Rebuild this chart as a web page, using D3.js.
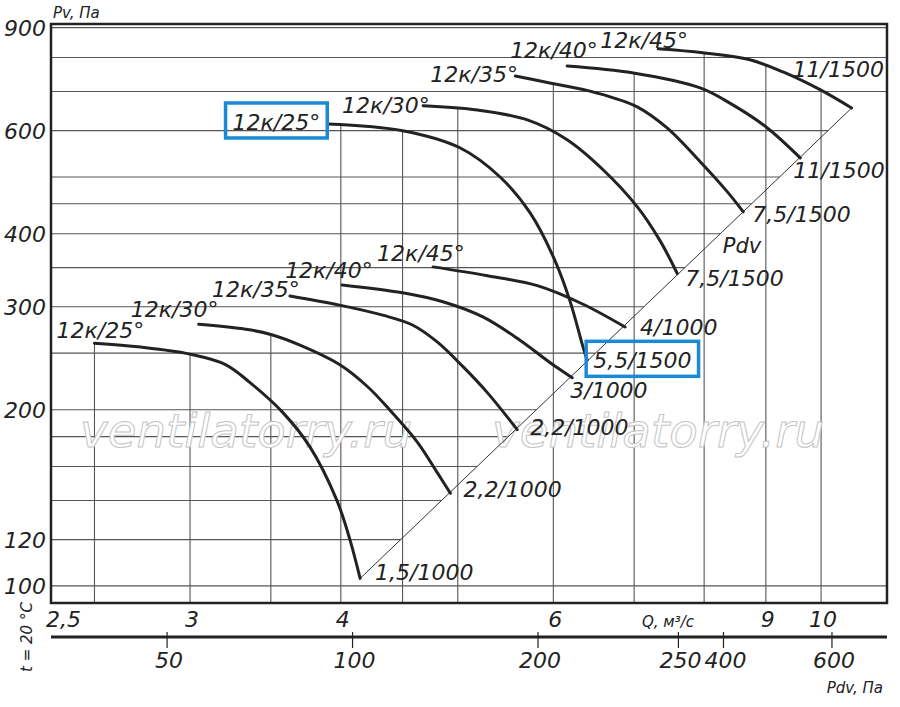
<!DOCTYPE html>
<html>
<head>
<meta charset="utf-8">
<title>12k fan curves</title>
<script src="https://cdn.jsdelivr.net/npm/d3@7"></script>
<style>
  body { margin: 0; background: #fff; }
  text { font-family: "DejaVu Sans", sans-serif; font-style: italic; fill: #222; }
</style>
</head>
<body>
<svg width="900" height="707"></svg>

<script>
// ---- data: Q in m3/s, Pv in Pa ----
var blade_angles = ["12к/25°", "12к/30°", "12к/35°", "12к/40°", "12к/45°"];

// 1000 rpm group
var low_25 = [[2.5,260],[2.73,256],[3.0,249],[3.21,239],[3.36,223],[3.58,198],[3.77,173],[3.97,140],[4.07,120],[4.15,103]];
var low_30 = [[3.05,280],[3.36,274],[3.50,269],[3.70,258],[3.99,239],[4.21,219],[4.39,200],[4.63,176],[4.81,156],[4.93,144]];
var low_35 = [[3.63,313],[3.99,302],[4.34,290],[4.59,279],[4.81,261],[5.05,237],[5.29,214],[5.60,185]];
var low_40 = [[4.01,327],[4.50,317],[4.86,306],[5.25,288],[5.63,263],[5.96,241],[6.22,227]];
var low_45 = [[4.77,351],[5.29,339],[5.82,326],[6.35,303],[6.88,277]];
var low_motors = ["1,5/1000", "2,2/1000", "2,2/1000", "3/1000", "4/1000"];

// 1500 rpm group
var high_25 = [[3.90,616],[4.50,600],[5.02,561],[5.42,500],[5.74,434],[6.00,365],[6.19,308],[6.35,256],[6.40,243]];
var high_30 = [[4.68,662],[5.19,651],[5.71,626],[6.16,579],[6.60,514],[7.04,445],[7.35,390],[7.60,342]];
var high_35 = [[5.58,744],[5.96,724],[6.52,696],[7.04,659],[7.45,607],[7.94,531],[8.36,472],[8.62,436]];
var high_40 = [[6.16,774],[6.99,753],[7.94,710],[8.45,664],[9.02,607],[9.61,539]];
var high_45 = [[7.33,828],[7.98,815],[8.73,793],[9.30,756],[9.98,705],[10.60,656]];
var high_motors = ["5,5/1500", "7,5/1500", "7,5/1500", "11/1500", "11/1500"];

// Pdv line through the curve ends
var pdv_line = [[4.15,103],[10.60,656]];

// grid and tick values
var p_grid = [100,120,140,160,180,200,250,300,350,400,450,500,600,700,800,900];
var q_grid = [2.5,3,3.5,4,4.5,5,6,7,8,9,10];
var p_ticks = [100,120,200,300,400,600,900];
var q_ticks = [2.5,3,4,6,9,10];
var q_tick_labels = ["2,5","3","4","6","9","10"];
var pdv_ticks = [50,100,200,338,400,600];
var pdv_tick_labels = ["50","100","200","250","400","600"];

// ---- layout ----
var m_left = 51, m_right = 887, m_top = 24, m_bottom = 603, pdv_axis_y = 637;
var ink = "#222", grid_ink = "#555", box_blue = "#1a8ad4";

var x = d3.scaleLog().domain([2.301, 11.34]).range([m_left, m_right]);
var y = d3.scaleLog().domain([93.5, 913]).range([m_bottom, m_top]);
var x_pdv = d3.scaleLog().domain([32.4, 737]).range([m_left, m_right]);

var curves = [
  { pts: low_25, name: blade_angles[0], motor: low_motors[0], ls: [-38,-5], le: [15,2] },
  { pts: low_30, name: blade_angles[1], motor: low_motors[1], ls: [-68,-7], le: [13,4] },
  { pts: low_35, name: blade_angles[2], motor: low_motors[2], ls: [-78,1],  le: [13,5] },
  { pts: low_40, name: blade_angles[3], motor: low_motors[3], ls: [-57,-7], le: [-2,20] },
  { pts: low_45, name: blade_angles[4], motor: low_motors[4], ls: [-56,-6], le: [15,8] },
  { pts: high_25, name: blade_angles[0], motor: high_motors[0], ls: [-95,6], le: [6,8], boxed: true },
  { pts: high_30, name: blade_angles[1], motor: high_motors[1], ls: [-81,7], le: [8,13] },
  { pts: high_35, name: blade_angles[2], motor: high_motors[2], ls: [-85,6], le: [9,10] },
  { pts: high_40, name: blade_angles[3], motor: high_motors[3], ls: [-57,-8], le: [-7,20] },
  { pts: high_45, name: blade_angles[4], motor: high_motors[4], ls: [-58,-1], le: [-59,-31] }
];

var svg = d3.select("svg");

// highest curve above a given Q (grid verticals stop there)
function envelope_y(q) {
  var px = x(q), best = m_top;
  var found = false;
  curves.forEach(function(c) {
    for (var i = 0; i < c.pts.length - 1; i++) {
      var x0 = x(c.pts[i][0]), x1 = x(c.pts[i+1][0]);
      if (px >= x0 && px <= x1) {
        var yy = y(c.pts[i][1]) + (px - x0) / (x1 - x0) * (y(c.pts[i+1][1]) - y(c.pts[i][1]));
        if (!found || yy < best) { best = yy; found = true; }
      }
    }
  });
  return found ? best : m_top;
}

// where the Pdv line crosses a given P (grid horizontals stop there)
function diag_x(p) {
  var y0 = y(pdv_line[0][1]), y1 = y(pdv_line[1][1]), py = y(p);
  if (py > y0 || py < y1) return m_right;
  var x0 = x(pdv_line[0][0]), x1 = x(pdv_line[1][0]);
  return x0 + (py - y0) / (y1 - y0) * (x1 - x0);
}

// grid
svg.append("g").selectAll("line")
    .data(p_grid)
  .enter().append("line")
    .attr("x1", m_left).attr("x2", function(d) { return diag_x(d); })
    .attr("y1", function(d) { return y(d); }).attr("y2", function(d) { return y(d); })
    .style("stroke", grid_ink).style("stroke-width", 1.1);

svg.append("g").selectAll("line")
    .data(q_grid)
  .enter().append("line")
    .attr("x1", function(d) { return x(d); }).attr("x2", function(d) { return x(d); })
    .attr("y1", function(d) { return envelope_y(d); }).attr("y2", m_bottom)
    .style("stroke", grid_ink).style("stroke-width", 1.1);

// watermark
["ventilatorry.ru", "ventilatorry.ru"].forEach(function(t, i) {
  svg.append("text")
      .attr("x", i == 0 ? 80 : 492).attr("y", 447)
      .attr("textLength", 332).attr("lengthAdjust", "spacingAndGlyphs")
      .text(t)
      .style("font-size", "46px").style("font-style", "italic")
      .style("fill", "#fff").style("stroke", "#c4c4c4").style("stroke-width", 1);
});

// frame
svg.append("rect")
    .attr("x", m_left).attr("y", m_top)
    .attr("width", m_right - m_left).attr("height", m_bottom - m_top)
    .style("fill", "none").style("stroke", ink).style("stroke-width", 2.5);

// Pdv line
var line = d3.line()
    .x(function(d) { return x(d[0]); })
    .y(function(d) { return y(d[1]); });

svg.append("path")
    .attr("d", line(pdv_line))
    .style("fill", "none").style("stroke", "#333").style("stroke-width", 1);

svg.append("text")
    .attr("x", x(8.29)).attr("y", y(371))
    .text("Pdv").style("font-size", "21px");

// fan curves
var smooth = d3.line()
    .x(function(d) { return x(d[0]); })
    .y(function(d) { return y(d[1]); })
    .curve(d3.curveCatmullRom.alpha(0.5));

svg.append("g").selectAll("path")
    .data(curves)
  .enter().append("path")
    .attr("d", function(d) { return smooth(d.pts); })
    .style("fill", "none").style("stroke", ink).style("stroke-width", 3)
    .style("stroke-linecap", "round");

// curve labels
var names = svg.append("g").selectAll("text")
    .data(curves)
  .enter().append("text")
    .attr("x", function(d) { return x(d.pts[0][0]) + d.ls[0]; })
    .attr("y", function(d) { return y(d.pts[0][1]) + d.ls[1]; })
    .text(function(d) { return d.name; })
    .style("font-size", "22px");

var motors = svg.append("g").selectAll("text")
    .data(curves)
  .enter().append("text")
    .attr("x", function(d) { var e = d.pts[d.pts.length-1]; return x(e[0]) + d.le[0]; })
    .attr("y", function(d) { var e = d.pts[d.pts.length-1]; return y(e[1]) + d.le[1]; })
    .text(function(d) { return d.motor; })
    .style("font-size", "22px");

// blue boxes round the picked point
[names, motors].forEach(function(sel) {
  sel.filter(function(d) { return d.boxed; }).each(function() {
    var b = this.getBBox();
    svg.append("rect")
        .attr("x", b.x - 7).attr("y", b.y - 7)
        .attr("width", b.width + 14).attr("height", b.height + 10)
        .style("fill", "none").style("stroke", box_blue).style("stroke-width", 3.5);
  });
});

// Pv axis labels
svg.append("g").selectAll("text")
    .data(p_ticks)
  .enter().append("text")
    .attr("x", m_left - 5).attr("y", function(d) { return y(d); })
    .attr("dy", "0.36em")
    .style("text-anchor", "end").style("font-size", "22px")
    .text(function(d) { return d; });

svg.append("text").attr("x", m_left + 2).attr("y", 18)
    .text("Pv, Па").style("font-size", "15px");

// Q axis labels
svg.append("g").selectAll("text")
    .data(q_ticks)
  .enter().append("text")
    .attr("x", function(d, i) { return x(d) + (i == 0 ? -31 : 2); })
    .attr("y", 627)
    .style("text-anchor", "middle").style("font-size", "22px")
    .text(function(d, i) { return q_tick_labels[i]; });

svg.append("text").attr("x", 642).attr("y", 627)
    .text("Q, м³/с").style("font-size", "15px");

// Pdv axis
svg.append("line")
    .attr("x1", m_left).attr("x2", m_right)
    .attr("y1", pdv_axis_y).attr("y2", pdv_axis_y)
    .style("stroke", ink).style("stroke-width", 3);

svg.append("g").selectAll("line")
    .data(pdv_ticks)
  .enter().append("line")
    .attr("x1", function(d) { return x_pdv(d); }).attr("x2", function(d) { return x_pdv(d); })
    .attr("y1", pdv_axis_y - 5).attr("y2", pdv_axis_y + 11)
    .style("stroke", ink).style("stroke-width", 1.2);

svg.append("g").selectAll("text")
    .data(pdv_ticks)
  .enter().append("text")
    .attr("x", function(d) { return x_pdv(d) + 2; })
    .attr("y", 668)
    .style("text-anchor", "middle").style("font-size", "22px")
    .text(function(d, i) { return pdv_tick_labels[i]; });

svg.append("text").attr("x", 883).attr("y", 693)
    .style("text-anchor", "end").style("font-size", "15px")
    .text("Pdv, Па");

svg.append("text")
    .attr("transform", "translate(32,637) rotate(-90)")
    .style("text-anchor", "middle").style("font-size", "15px")
    .text("t = 20 °C");
</script>
</body>
</html>
